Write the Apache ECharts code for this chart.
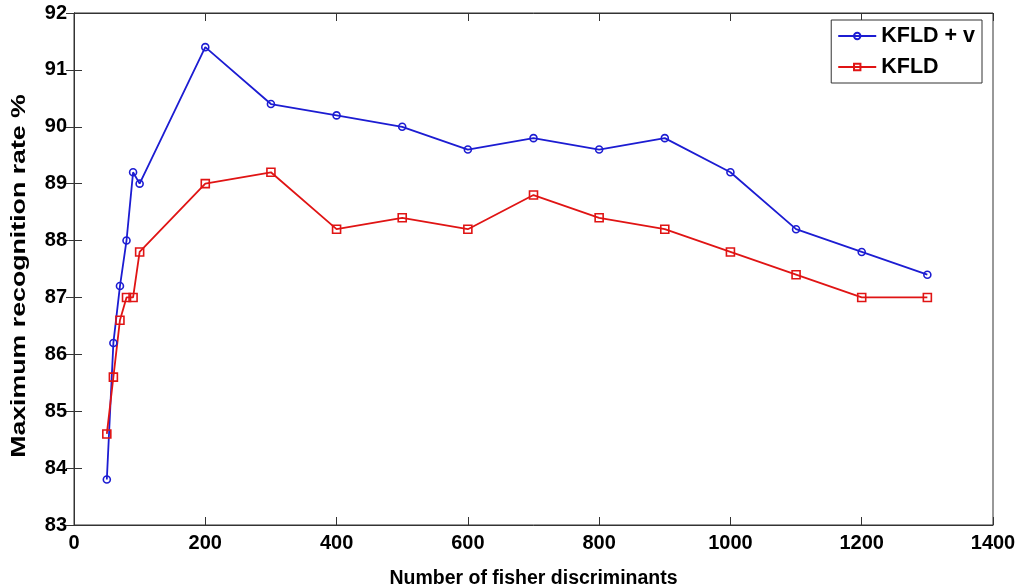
<!DOCTYPE html>
<html><head><meta charset="utf-8">
<script src="https://cdn.jsdelivr.net/npm/echarts@6/dist/echarts.min.js"></script>
<style>html,body{margin:0;padding:0;background:#fff}#c{width:1024px;height:588px}</style>
</head><body><div id="c"></div>
<script>
const xValues = [50,60,70,80,90,100,200,300,400,500,600,700,800,900,1000,1100,1200,1300];
const kfldV = [83.8,86.2,87.2,88.0,89.2,89.0,91.4,90.4,90.2,90.0,89.6,89.8,89.6,89.8,89.2,88.2,87.8,87.4];
const kfld  = [84.6,85.6,86.6,87.0,87.0,87.8,89.0,89.2,88.2,88.4,88.2,88.8,88.4,88.2,87.8,87.4,87.0,87.0];
const seriesNames = ['KFLD + v','KFLD'];
const xTitle = 'Number of fisher discriminants';
const yTitle = 'Maximum recognition rate %';

const font = 'Liberation Sans, Arial, sans-serif';
const blue = '#1c1cd2', red = '#e01414';
const chart = echarts.init(document.getElementById('c'));
const axLine = {show:true,lineStyle:{color:'#333',width:1}};
const tick = {show:true,inside:true,length:8,lineStyle:{color:'#333'}};
const lbl = {fontFamily:font,fontWeight:'bold',fontSize:20,color:'#000'};
chart.setOption({
  animation:false,
  grid:{left:74,right:31,top:13,bottom:63,show:true,borderColor:'#333',borderWidth:1,
        outerBoundsMode:'none', containLabel:false},
  legend:{
    data:seriesNames, orient:'vertical', right:42, top:20,
    borderColor:'#333', borderWidth:1, backgroundColor:'#fff',
    padding:[4,7,4,6], itemGap:7, itemWidth:38, itemHeight:8,
    textStyle:{fontFamily:font,fontWeight:'bold',fontSize:21.5,color:'#000',lineHeight:24}
  },
  xAxis:[{
    type:'value', min:0, max:1400, interval:200,
    name:xTitle, nameLocation:'middle', nameGap:44,
    nameTextStyle:{fontFamily:font,fontWeight:'bold',fontSize:19.5,color:'#000'},
    axisLine:axLine, axisTick:tick, splitLine:{show:false},
    axisLabel:Object.assign({margin:8, formatter:v=>String(v)}, lbl)
  },{
    type:'value', min:0, max:1400, interval:200, position:'top',
    axisLine:axLine, axisTick:tick, axisLabel:{show:false}, splitLine:{show:false}
  }],
  yAxis:[{
    type:'value', min:83, max:92, interval:1,
    axisLine:axLine, axisTick:tick, splitLine:{show:false},
    axisLabel:Object.assign({margin:7}, lbl)
  },{
    type:'value', min:83, max:92, interval:1, position:'right',
    axisLine:axLine, axisTick:tick, axisLabel:{show:false}, splitLine:{show:false}
  }],
  graphic:[{
    // rotated y-axis title, stretched along its length as in the reference
    type:'text', x:20, y:276, rotation:Math.PI/2, scaleX:1.37, scaleY:1,
    style:{text:yTitle, font:'bold 19.5px '+font, fill:'#000', align:'center', verticalAlign:'middle'}
  }],
  series:[{
    name:seriesNames[0], type:'line',
    data:xValues.map((x,i)=>[x,kfldV[i]]),
    symbol:'circle', symbolSize:7, showAllSymbol:true,
    lineStyle:{color:blue,width:1.8},
    itemStyle:{color:'rgba(255,255,255,0)',borderColor:blue,borderWidth:1.6}
  },{
    name:seriesNames[1], type:'line',
    data:xValues.map((x,i)=>[x,kfld[i]]),
    symbol:'rect', symbolSize:8, showAllSymbol:true,
    lineStyle:{color:red,width:1.8},
    itemStyle:{color:'rgba(255,255,255,0)',borderColor:red,borderWidth:1.6}
  }]
});
</script></body></html>
